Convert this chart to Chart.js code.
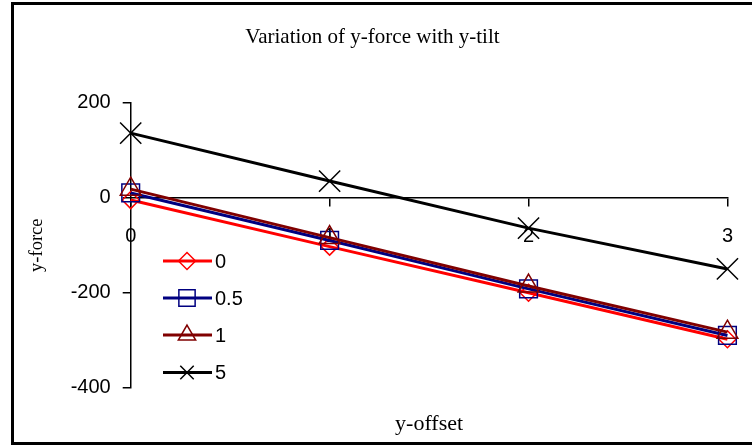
<!DOCTYPE html>
<html>
<head>
<meta charset="utf-8">
<script src="https://cdn.jsdelivr.net/npm/chart.js@4.4.1/dist/chart.umd.min.js"></script>
<style>
  html, body { margin: 0; padding: 0; background: #fff; }
  #wrap { position: relative; width: 752px; height: 446px; }
</style>
</head>
<body>
<div id="wrap"><canvas id="c" width="752" height="446"></canvas></div>
<script>
// y-offset positions along the x axis
const offsets = [0, 1, 2, 3];
// y-tilt value of each series
const tiltLabels = ['0', '0.5', '1', '5'];
// y-force for each tilt
const force0 = [-5, -103, -200, -298];
const force05 = [10, -90, -192, -290];
const force1 = [18, -84, -186, -283];
const force5 = [136, 35, -64, -150];
// y axis ticks
const yTicks = [-400, -200, 0, 200];

const SANS = '"Liberation Sans", Arial, sans-serif';
const SERIF = '"Liberation Serif", "Times New Roman", serif';

const styles = [
  { color: '#ff0000', point: 'rectRot', r: 8.5, lr: 8.5 },
  { color: '#000080', point: 'rect', r: 12.5, lr: 11.5 },
  { color: '#800000', point: 'triangle', r: 12, lr: 10 },
  { color: '#000000', point: 'crossRot', r: 15, lr: 9.5 }
];
const seriesValues = [force0, force05, force1, force5];

const datasets = seriesValues.map((vals, i) => ({
  label: tiltLabels[i],
  data: offsets.map((x, k) => ({ x: x, y: vals[k] })),
  borderColor: styles[i].color,
  backgroundColor: 'rgba(0,0,0,0)',
  borderWidth: 3,
  pointStyle: styles[i].point,
  pointRadius: styles[i].r,
  pointBorderColor: styles[i].color,
  pointBackgroundColor: 'rgba(0,0,0,0)',
  pointBorderWidth: 1.5,
  tension: 0,
  clip: false,
  order: seriesValues.length - i
}));

// outer frame of the chart object
const framePlugin = {
  id: 'frame',
  beforeDraw(chart) {
    const ctx = chart.ctx;
    ctx.save();
    ctx.fillStyle = '#ffffff';
    ctx.fillRect(0, 0, chart.width, chart.height);
    ctx.fillStyle = '#000000';
    ctx.fillRect(11, 2, 741, 3);
    ctx.fillRect(11, 2, 3, 443);
    ctx.fillRect(11, 442, 741, 3);
    ctx.restore();
  }
};

function drawMarker(ctx, style, radius, x, y) {
  const opts = { pointStyle: style, radius: radius, rotation: 0, borderWidth: 1.5 };
  if (Chart.helpers && Chart.helpers.drawPoint) {
    Chart.helpers.drawPoint(ctx, opts, x, y);
  }
}

// line-and-marker legend placed inside the plot area
const insideLegend = {
  id: 'insideLegend',
  afterDraw(chart) {
    const ctx = chart.ctx;
    const rows = [261, 298, 335, 372.5];
    ctx.save();
    chart.data.datasets.forEach((ds, i) => {
      const y = rows[i];
      ctx.strokeStyle = ds.borderColor;
      ctx.lineWidth = 3;
      ctx.beginPath();
      ctx.moveTo(163, y);
      ctx.lineTo(212, y);
      ctx.stroke();
      ctx.strokeStyle = ds.pointBorderColor;
      ctx.fillStyle = 'rgba(0,0,0,0)';
      ctx.lineWidth = 1.5;
      drawMarker(ctx, ds.pointStyle, styles[i].lr, 187, y);
      ctx.fillStyle = '#000';
      ctx.font = '20px ' + SANS;
      ctx.textAlign = 'left';
      ctx.textBaseline = 'middle';
      ctx.fillText(ds.label, 215, y + 1);
    });
    ctx.restore();
  }
};

new Chart(document.getElementById('c'), {
  type: 'line',
  data: { datasets: datasets },
  plugins: [framePlugin, insideLegend],
  options: {
    responsive: false,
    animation: false,
    events: [],
    layout: { padding: { left: 14, right: 21, top: 3, bottom: 4 } },
    plugins: {
      legend: { display: false },
      tooltip: { enabled: false },
      title: {
        display: true,
        text: 'Variation of y-force with y-tilt',
        color: '#000',
        font: { family: SERIF, size: 21, weight: 'normal' },
        padding: { top: 22, bottom: 52.5 }
      }
    },
    scales: {
      x: {
        type: 'linear',
        axis: 'x',
        position: { y: 0 },
        min: 0,
        max: 3,
        ticks: {
          stepSize: 1,
          color: '#000',
          padding: 19,
          font: { family: SANS, size: 20 },
          callback: v => String(offsets[v])
        },
        grid: { drawOnChartArea: false, drawTicks: true, tickLength: 8, color: '#000', lineWidth: 1.5 },
        border: { display: true, color: '#000', width: 1.5 }
      },
      xTitle: {
        type: 'linear',
        axis: 'x',
        position: 'bottom',
        min: 0,
        max: 3,
        ticks: { display: false },
        grid: { display: false },
        border: { display: false },
        title: {
          display: true,
          text: 'y-offset',
          color: '#000',
          font: { family: SERIF, size: 22, weight: 'normal' },
          padding: { top: 0, bottom: 5 }
        },
        afterFit: s => { s.height = 54.3; }
      },
      y: {
        type: 'linear',
        position: 'left',
        min: yTicks[0],
        max: yTicks[yTicks.length - 1],
        afterBuildTicks: s => { s.ticks = yTicks.map(v => ({ value: v })); },
        ticks: {
          color: '#000',
          padding: 12,
          font: { family: SANS, size: 20 }
        },
        grid: { drawOnChartArea: false, drawTicks: true, tickLength: 8, color: '#000', lineWidth: 1.5 },
        border: { display: true, color: '#000', width: 1.5 },
        title: {
          display: true,
          text: 'y-force',
          color: '#000',
          font: { family: SERIF, size: 18.5, weight: 'normal' },
          padding: { top: 12, bottom: 0 }
        },
        afterFit: s => { s.width = 116.7; }
      }
    }
  }
});
</script>
</body>
</html>
